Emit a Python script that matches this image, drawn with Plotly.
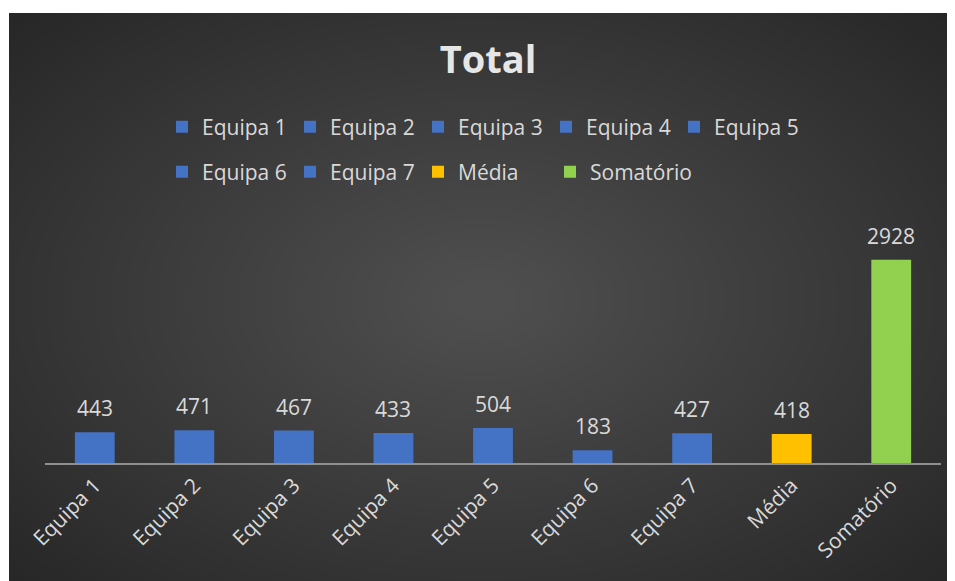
import plotly.graph_objects as go

# ---- data ----
categories = ["Equipa 1", "Equipa 2", "Equipa 3", "Equipa 4", "Equipa 5",
              "Equipa 6", "Equipa 7", "Média", "Somatório"]
values = [443, 471, 467, 433, 504, 183, 427, 418, 2928]
title_text = "Total"

# ---- style ----
BLUE, ORANGE, GREEN = "#4472C4", "#FFC000", "#92D050"
bar_color = {c: BLUE for c in categories}
bar_color["Média"] = ORANGE
bar_color["Somatório"] = GREEN
TXT = "#d9d9d9"
FONT = "Open Sans"

OFF = 8                      # page body margin
W, H = 955 - OFF, 581 - OFF  # figure size
L, R, T, B = 45 - OFF, 14, 220 - OFF, 118
PW, PH = W - L - R, H - T - B

def px2x(px):  # page pixel -> paper x
    return (px - OFF - L) / PW

def py2y(py):  # page pixel -> paper y
    return (H + OFF - B - py) / PH

fig = go.Figure()

legend_of = {}
for c in categories[:5]:
    legend_of[c] = "legend"
for c in categories[5:8]:
    legend_of[c] = "legend2"
legend_of["Somatório"] = "legend3"

for c, v in zip(categories, values):
    fig.add_trace(go.Bar(
        x=[c], y=[v], name=c,
        marker=dict(color=bar_color[c], line=dict(width=0)),
        legend=legend_of[c],
        hoverinfo="x+y",
    ))

annotations = []
for c, v in zip(categories, values):
    annotations.append(dict(
        x=c, y=v, xref="x", yref="y", text=str(v), showarrow=False,
        yanchor="bottom", yshift=8,
        font=dict(family=FONT, size=21, color=TXT),
    ))

# background: dark with radial lightening, white outer margin
shapes = []
shapes.append(dict(type="rect", xref="paper", yref="paper", layer="below",
                   x0=px2x(9), x1=px2x(960), y0=py2y(590), y1=py2y(13),
                   fillcolor="#262626", line=dict(width=0)))
cx, cy = 482, 300
n = 40
for i in range(n):
    rx = 660 - i * 16
    ry = rx * 0.62
    shapes.append(dict(type="circle", xref="paper", yref="paper", layer="below",
                       x0=px2x(cx - rx), x1=px2x(cx + rx),
                       y0=py2y(cy + ry), y1=py2y(cy - ry),
                       fillcolor="rgba(255,255,255,0.0072)", line=dict(width=0)))
shapes.append(dict(type="rect", xref="paper", yref="paper", layer="below",
                   x0=px2x(0), x1=px2x(970), y0=py2y(13), y1=py2y(0),
                   fillcolor="white", line=dict(width=0)))
shapes.append(dict(type="rect", xref="paper", yref="paper", layer="below",
                   x0=px2x(0), x1=px2x(9), y0=py2y(600), y1=py2y(0),
                   fillcolor="white", line=dict(width=0)))

legend_common = dict(
    orientation="h", xref="container", yref="container",
    xanchor="left", yanchor="middle",
    font=dict(family=FONT, size=21, color=TXT),
    bgcolor="rgba(0,0,0,0)", itemclick=False, itemdoubleclick=False,
)

fig.update_layout(
    width=W, height=H,
    margin=dict(l=L, r=R, t=T, b=B),
    paper_bgcolor="white",
    plot_bgcolor="rgba(0,0,0,0)",
    barmode="relative",
    bargap=0.6,
    title=dict(text="<b>" + title_text + "</b>", x=(488 - OFF) / W, xanchor="center",
               xref="container", y=1 - (60 - OFF) / H, yanchor="middle", yref="container",
               font=dict(family=FONT, size=38, color="#e6e6e6")),
    legend=dict(x=(162 - OFF) / W, y=1 - (127 - OFF) / H,
                entrywidth=83, entrywidthmode="pixels", **legend_common),
    legend2=dict(x=(162 - OFF) / W, y=1 - (172 - OFF) / H,
                 entrywidth=83, entrywidthmode="pixels", **legend_common),
    legend3=dict(x=(550 - OFF) / W, y=1 - (172 - OFF) / H, **legend_common),
    xaxis=dict(categoryorder="array", categoryarray=categories,
               showline=True, linecolor="#8f8f8f", linewidth=2,
               showgrid=False, zeroline=False, ticks="",
               tickangle=-45, tickfont=dict(family=FONT, size=21, color=TXT)),
    yaxis=dict(range=[0, 3500], visible=False, showgrid=False, zeroline=False),
    annotations=annotations,
    shapes=shapes,
    showlegend=True,
)

fig.write_html("out.html")
